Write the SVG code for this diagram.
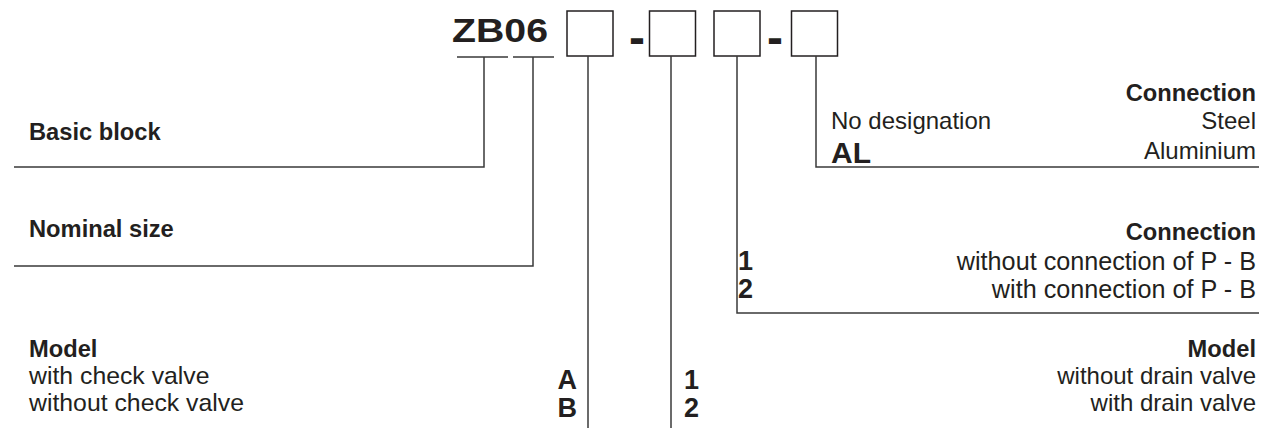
<svg xmlns="http://www.w3.org/2000/svg" width="1279" height="428" viewBox="0 0 1279 428">
<style>
text{font-family:"Liberation Sans",Arial,Helvetica,sans-serif;fill:#231f20}
.b{font-weight:bold;font-size:23.7px}
.r{font-size:24px}
.rl{font-size:24.8px}
.rp{font-size:25.2px}
.code{font-weight:bold;font-size:27px}
.al{font-weight:bold;font-size:30px}
.big{font-weight:bold;font-size:33px}
.dash{font-weight:bold;font-size:48px}
.e{text-anchor:end}
.ln{fill:none;stroke:#3a3a3a;stroke-width:1.5}
.box{fill:#fff;stroke:#231f20;stroke-width:1.5}
</style>
<rect width="1279" height="428" fill="#fff"/>
<g id="code">
<text class="big" x="452" y="42" textLength="96" lengthAdjust="spacingAndGlyphs">ZB06</text>
<rect class="box" x="567" y="11" width="46" height="45"/>
<text class="dash" x="629" y="54">-</text>
<rect class="box" x="649.5" y="11" width="46" height="45"/>
<rect class="box" x="714" y="11" width="46" height="45"/>
<text class="dash" x="767" y="54">-</text>
<rect class="box" x="791.5" y="11" width="46" height="45"/>
</g>
<g id="connectors">
<path class="ln" d="M457 57H508M513 57H554"/>
<path class="ln" d="M484 57V167H14"/>
<path class="ln" d="M533 57V266H14"/>
<path class="ln" d="M588 56V428"/>
<path class="ln" d="M671 56V428"/>
<path class="ln" d="M737 56V313H1259"/>
<path class="ln" d="M816 56V167H1259"/>
</g>
<g id="basic-block"><text class="b" x="29" y="140">Basic block</text></g>
<g id="nominal-size"><text class="b" x="29" y="237">Nominal size</text></g>
<g id="model-left">
<text class="b" x="29" y="357">Model</text>
<text class="rl" x="29" y="384">with check valve</text>
<text class="rl" x="29" y="411">without check valve</text>
<text class="code e" x="577" y="388.5">A<tspan x="577" dy="28.5">B</tspan></text>
</g>
<g id="model-right">
<text class="code" x="684" y="388.5">1<tspan x="684" dy="28.5">2</tspan></text>
<text class="b e" x="1256" y="357">Model</text>
<text class="r e" x="1256" y="384">without drain valve</text>
<text class="r e" x="1256" y="411">with drain valve</text>
</g>
<g id="connection-pb">
<text class="b e" x="1256" y="240">Connection</text>
<text class="code" x="738" y="270">1<tspan x="738" dy="28">2</tspan></text>
<text class="rp e" x="1256" y="270">without connection of P - B</text>
<text class="rp e" x="1256" y="298">with connection of P - B</text>
</g>
<g id="connection-material">
<text class="b e" x="1256" y="101">Connection</text>
<text class="r" x="831" y="129">No designation</text>
<text class="r e" x="1256" y="129">Steel</text>
<text class="al" x="831" y="163">AL</text>
<text class="r e" x="1256" y="159">Aluminium</text>
</g>
</svg>
